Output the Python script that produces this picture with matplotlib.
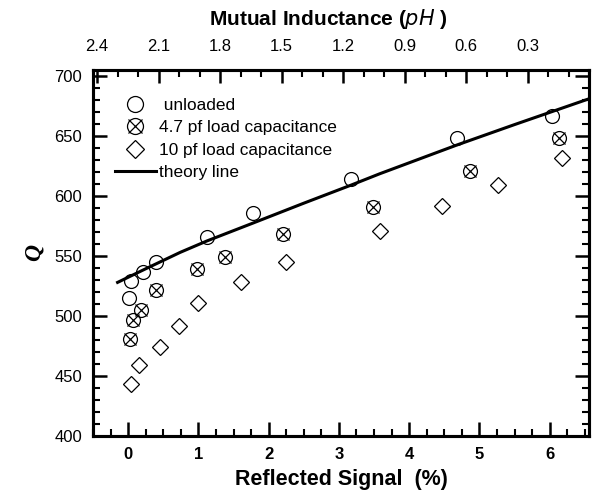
import numpy as np
import matplotlib.pyplot as plt
from matplotlib.ticker import MultipleLocator

plt.rcParams['font.family'] = ['Liberation Sans', 'DejaVu Sans']

# unloaded resonator
x_unl = [0.01, 0.04, 0.21, 0.39, 1.12, 1.78, 3.17, 4.68, 6.03]
q_unl = [515, 529, 537, 545, 566, 586, 614, 648, 667]

# 4.7 pf load
x_47 = [0.03, 0.07, 0.19, 0.39, 0.98, 1.38, 2.20, 3.48, 4.86, 6.13]
q_47 = [481, 497, 505, 522, 539, 549, 568, 591, 621, 648]

# 10 pf load
x_10 = [0.04, 0.15, 0.46, 0.72, 1.00, 1.60, 2.25, 3.58, 4.47, 5.26, 6.18]
q_10 = [443, 459, 474, 492, 511, 528, 545, 571, 592, 609, 632]

# theory line
x_th = [-0.15, 0.22, 0.74, 1.12, 1.78, 2.5, 3.17, 3.58, 4.68, 5.5, 6.56]
q_th = [528, 538.5, 553, 562.5, 577.5, 594, 609, 618.5, 642.5, 659.5, 681]

fig = plt.figure(figsize=(5.95, 4.97), dpi=100)
ax = fig.add_axes([93 / 595, 1 - 436 / 497, 496 / 595, 366 / 497])

l_th, = ax.plot(x_th, q_th, color='black', lw=2.2, zorder=2)
l_unl, = ax.plot(x_unl, q_unl, 'o', ms=10, mfc='none', mec='black', mew=0.9, zorder=3)
l_47o, = ax.plot(x_47, q_47, 'o', ms=10, mfc='none', mec='black', mew=0.9, zorder=3)
l_47x, = ax.plot(x_47, q_47, 'x', ms=8.5, mec='black', mew=0.9, zorder=3)
l_10, = ax.plot(x_10, q_10, 'D', ms=8.2, mfc='none', mec='black', mew=0.9, zorder=3)

ax.set_xlim(-0.5, 6.56)
ax.set_ylim(400, 705)
ax.xaxis.set_major_locator(MultipleLocator(1))
ax.xaxis.set_minor_locator(MultipleLocator(0.25))
ax.yaxis.set_major_locator(MultipleLocator(50))
ax.yaxis.set_minor_locator(MultipleLocator(10))
ax.tick_params(axis='both', which='major', direction='in', length=10, width=1.8, labelsize=12, pad=8)
ax.tick_params(axis='both', which='minor', direction='in', length=5, width=1.5)
ax.tick_params(axis='x', which='both', top=False)
ax.tick_params(axis='y', which='both', right=True, direction='in')
for lab in ax.get_xticklabels():
    lab.set_fontweight('bold')
for s in ax.spines.values():
    s.set_linewidth(2.2)

ax.set_xlabel('Reflected Signal  (%)', fontsize=15.5, fontweight='bold', labelpad=5)
ax.set_ylabel('Q', fontsize=17, fontweight='bold', fontstyle='italic',
              family='Liberation Serif', labelpad=7)

ax2 = ax.twiny()
ax2.set_xlim(2.42, 0.0)
ax2.xaxis.set_major_locator(MultipleLocator(0.3))
ax2.xaxis.set_minor_locator(MultipleLocator(0.1))
ax2.tick_params(axis='x', which='major', direction='in', length=9, width=1.8, labelsize=12, pad=11.5)
ax2.tick_params(axis='x', which='minor', direction='in', length=5, width=1.5)
ax2.set_xticks([2.4, 2.1, 1.8, 1.5, 1.2, 0.9, 0.6, 0.3])
ax2.set_xticklabels(['2.4', '2.1', '1.8', '1.5', '1.2', '0.9', '0.6', '0.3'])
ax2.set_xlabel('Mutual Inductance (' + r'$\mathbf{\mathit{pH}}$' + ' )', fontsize=15,
               fontweight='bold', labelpad=10)
ax2.xaxis.label.set_x(0.474)
for s in ax2.spines.values():
    s.set_linewidth(2.2)

ax.legend([l_unl, (l_47o, l_47x), l_10, l_th],
          [' unloaded', '4.7 pf load capacitance', '10 pf load capacitance', 'theory line'],
          loc='upper left', bbox_to_anchor=(0.03, 0.943), frameon=False, fontsize=12.4,
          handlelength=2.4, handletextpad=0.15, labelspacing=0.43, borderaxespad=0,
          markerscale=1.15)

fig.savefig('out.png', dpi=100)
